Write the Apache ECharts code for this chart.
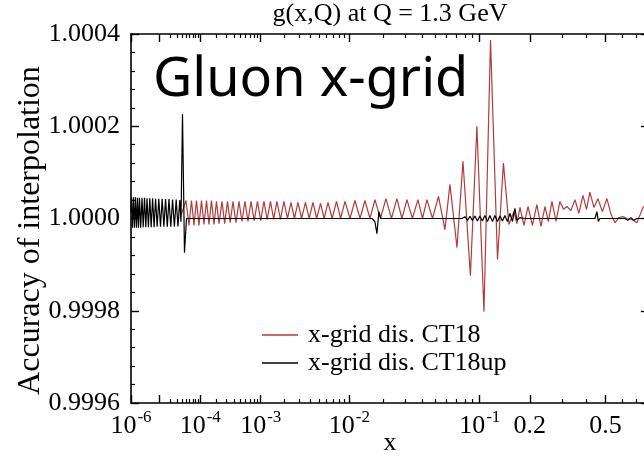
<!DOCTYPE html>
<html><head><meta charset="utf-8">
<script src="https://cdn.jsdelivr.net/npm/echarts@6/dist/echarts.min.js"></script>
<style>html,body{margin:0;padding:0;background:#fff}#c{width:644px;height:456px}</style>
</head><body><div id="c"></div>
<script>
// ---------- texts ----------
const titleText = 'g(x,Q) at Q = 1.3 GeV';
const panelLabel = 'Gluon x-grid';
const yAxisName = 'Accuracy of interpolation';
const xAxisName = 'x';
const seriesNames = ['x-grid dis. CT18', 'x-grid dis. CT18up'];

// ---------- axes ----------
const xMin = 1e-6, xMax = 0.8;
const yMin = 0.9996, yMax = 1.0004, yStep = 0.0002;
const xMajorTicks = [1e-6, 1e-5, 1e-4, 1e-3, 1e-2, 0.1, 0.2, 0.5];
const xMinorTicks = [2e-5,3e-5,4e-5,5e-5,6e-5,7e-5,8e-5,9e-5,
  2e-4,3e-4,4e-4,5e-4,6e-4,7e-4,8e-4,9e-4,
  2e-3,3e-3,4e-3,5e-3,6e-3,7e-3,8e-3,9e-3,
  0.02,0.03,0.04,0.05,0.06,0.07,0.08,0.09,
  0.3,0.4,0.6,0.7];
const xLabelValues = [1e-6, 1e-4, 1e-3, 1e-2, 0.1, 0.2, 0.5];
const xLabelBase = ['10', '10', '10', '10', '10', '0.2', '0.5'];
const xLabelExp = ['-6', '-4', '-3', '-2', '-1', '', ''];

// ---------- data: log10(x) and deviation from 1 (units of 1e-5) ----------
const ct18LogX = [-4.444,-4.305,-4.238,-4.183,-4.129,-4.077,-4.026,-3.975,-3.926,-3.877,-3.830,-3.783,-3.737,-3.692,-3.647,-3.595,-3.549,-3.502,-3.457,-3.412,-3.364,-3.317,-3.271,-3.226,-3.181,-3.137,-3.091,-3.045,-3.000,-2.956,-2.913,-2.869,-2.828,-2.786,-2.742,-2.699,-2.656,-2.614,-2.573,-2.533,-2.491,-2.448,-2.407,-2.366,-2.326,-2.286,-2.248,-2.209,-2.167,-2.124,-2.084,-2.042,-1.995,-1.949,-1.903,-1.859,-1.815,-1.772,-1.725,-1.679,-1.634,-1.590,-1.550,-1.511,-1.469,-1.427,-1.393,-1.360,-1.320,-1.277,-1.232,-1.197,-1.149,-1.109,-1.060,-1.018,-0.973,-0.932,-0.920,-0.889,-0.853,-0.820,-0.790,-0.773,-0.755,-0.732,-0.709,-0.684,-0.659,-0.636,-0.614,-0.595,-0.576,-0.554,-0.533,-0.514,-0.496,-0.475,-0.454,-0.434,-0.413,-0.395,-0.378,-0.358,-0.338,-0.316,-0.294,-0.274,-0.255,-0.236,-0.217,-0.198,-0.175,-0.152,-0.124,-0.093,-0.048];
const ct18Dev = [0.0,3.9,-1.5,3.9,-1.5,3.9,-1.5,3.9,-1.3,3.9,-1.3,3.9,-1.3,3.7,-1.1,3.7,-1.1,3.7,-0.9,3.7,-0.9,3.7,-0.65,3.7,-0.65,3.7,-0.45,3.7,-0.45,3.7,-0.2,3.7,-0.2,3.7,-0.2,3.7,0.0,3.5,0.0,3.5,0.0,3.5,0.0,3.5,0.0,3.3,0.0,3.5,0.0,3.7,0.0,3.7,0.0,3.9,0.0,3.9,0.0,4.1,0.0,4.3,0.0,4.3,0.0,4.1,0.0,4.1,0.0,4.1,0.0,4.8,-2.4,7.4,-6.3,12.4,-12.4,20.0,-20.2,38.7,38.9,-8.9,12.0,-1.3,1.5,-1.1,2.4,-1.5,2.6,-1.5,3.0,-1.7,2.6,-0.65,3.7,-0.65,3.7,2.0,2.6,1.7,4.1,1.1,5.0,2.0,5.7,2.4,4.3,1.5,4.3,0.9,-0.9,0.2,0.4,0.0,-0.2,-0.9,2.4,3.9,3.0];

const ct18upLogX = [-6.000,-5.978,-5.936,-5.894,-5.852,-5.812,-5.771,-5.732,-5.693,-5.655,-5.610,-5.561,-5.518,-5.471,-5.426,-5.384,-5.336,-5.290,-5.244,-5.199,-5.151,-5.105,-5.056,-5.008,-4.958,-4.909,-4.861,-4.814,-4.767,-4.722,-4.674,-4.628,-4.582,-4.537,-4.493,-4.449,-4.421,-4.385,-4.339,-4.293,-3.461,-2.510,-2.090,-1.797,-1.772,-1.755,-1.738,-1.721,-1.412,-1.116,-1.096,-1.079,-1.063,-1.047,-1.031,-1.015,-0.999,-0.983,-0.967,-0.951,-0.936,-0.920,-0.905,-0.889,-0.874,-0.859,-0.844,-0.829,-0.814,-0.799,-0.785,-0.773,-0.755,-0.726,-0.533,-0.353,-0.343,-0.336,-0.328,-0.208,-0.194,-0.180,-0.166,-0.152,-0.097];
const ct18upDev = [1.3,4.6,-2.0,4.6,-2.0,4.6,-2.0,4.5,-2.0,4.5,-2.0,4.5,-1.9,4.5,-1.9,4.4,-1.9,4.4,-1.9,4.4,-1.9,4.3,-1.8,4.3,-1.8,4.3,-1.8,4.2,-1.8,4.2,-1.8,4.1,-1.8,4.1,-1.7,4.0,-0.7,22.6,-7.4,0.0,0.0,0.0,0.0,0.0,-0.7,-3.3,1.5,0.0,0.0,0.0,0.4,-0.4,0.5,-0.4,0.55,-0.55,0.55,-0.55,0.65,-0.65,0.65,-0.65,0.65,-0.65,0.55,-0.55,0.65,-0.65,1.1,-0.65,2.2,-0.4,0.2,0.0,0.0,0.0,1.5,-0.65,0.0,0.0,-0.4,0.2,-0.4,0.0,0.0];

// axis scale: the x axis is linear in x^(1/6)
const tr = x => Math.pow(x, 1 / 6);
const toPoints = (lx, dev) => lx.map((l, i) => [tr(Math.pow(10, l)), 1 + dev[i] * 1e-5]);

const SERIF = '"Liberation Serif", "Times New Roman", serif';
const chart = echarts.init(document.getElementById('c'), null, {renderer: 'canvas'});
const gridBox = {left: 131, right: -5, top: 34, bottom: 53, outerBoundsMode: 'none'};

function labelFor(v) {
  let best = 0, bd = Infinity;
  xLabelValues.forEach((x, i) => { const d = Math.abs(tr(x) - v); if (d < bd) { bd = d; best = i; } });
  return xLabelExp[best] ? '{b|' + xLabelBase[best] + '}{s|' + xLabelExp[best] + '}' : '{b|' + xLabelBase[best] + '}';
}

const majorX = (pos, withLabels) => ({
  type: 'value', gridIndex: 0, position: pos, min: tr(xMin), max: tr(xMax),
  name: withLabels ? xAxisName : '', nameLocation: 'middle', nameGap: 27, nameMoveOverlap: false,
  nameTextStyle: {fontFamily: SERIF, fontSize: 26, color: '#000'},
  axisLine: {show: true, onZero: false, lineStyle: {color: '#000', width: 1.6}},
  axisTick: {show: true, inside: true, length: 8, customValues: xMajorTicks.map(tr), lineStyle: {color: '#000', width: 1.4}},
  axisLabel: withLabels ? {
    show: true, margin: 6, customValues: xLabelValues.map(tr), formatter: labelFor,
    rich: {
      b: {fontFamily: SERIF, fontSize: 26, color: '#000', lineHeight: 30, verticalAlign: 'bottom'},
      s: {fontFamily: SERIF, fontSize: 17, color: '#000', lineHeight: 17, verticalAlign: 'top', padding: [0, 0, 0, 1]}
    }
  } : {show: false},
  splitLine: {show: false}
});
const minorX = (pos) => ({
  type: 'value', gridIndex: 1, position: pos, min: tr(xMin), max: tr(xMax),
  axisLine: {show: false, onZero: false},
  axisTick: {show: true, inside: true, length: 4, customValues: xMinorTicks.map(tr), lineStyle: {color: '#000', width: 1.2}},
  axisLabel: {show: false}, splitLine: {show: false}
});
const majorY = (pos, withLabels) => ({
  type: 'value', gridIndex: 0, position: pos, min: yMin, max: yMax, interval: yStep,
  name: withLabels ? yAxisName : '', nameLocation: 'middle', nameGap: 84, nameRotate: 90, nameMoveOverlap: false,
  nameTextStyle: {fontFamily: SERIF, fontSize: 32, color: '#000', padding: [0, 24, 0, 0]},
  axisLine: {show: true, onZero: false, lineStyle: {color: '#000', width: 1.6}},
  axisTick: {show: true, inside: true, length: 8, lineStyle: {color: '#000', width: 1.4}},
  minorTick: {show: true, splitNumber: 5, length: 4, lineStyle: {color: '#000', width: 1.2}},
  axisLabel: withLabels ? {show: true, margin: 11, fontFamily: SERIF, fontSize: 26, color: '#000',
    formatter: v => v.toFixed(4)} : {show: false},
  splitLine: {show: false}
});

chart.setOption({
  animation: false,
  backgroundColor: '#fff',
  grid: [Object.assign({}, gridBox), Object.assign({}, gridBox)],
  xAxis: [majorX('bottom', true), majorX('top', false), minorX('bottom'), minorX('top')],
  yAxis: [majorY('left', true), majorY('right', false),
    {type: 'value', gridIndex: 1, min: yMin, max: yMax, show: false}],
  legend: {
    orient: 'vertical', left: 262, top: 322, icon: 'rect', itemWidth: 36, itemHeight: 1.4, itemGap: 2, padding: 0,
    data: seriesNames,
    textStyle: {fontFamily: SERIF, fontSize: 26, color: '#000', padding: [0, 0, 0, 5]}
  },
  series: [
    {name: seriesNames[0], type: 'line', xAxisIndex: 0, yAxisIndex: 0, symbol: 'none',
     color: '#b23c3c', lineStyle: {color: '#b23c3c', width: 1.2}, data: toPoints(ct18LogX, ct18Dev), z: 2},
    {name: seriesNames[1], type: 'line', xAxisIndex: 0, yAxisIndex: 0, symbol: 'none',
     color: '#000', lineStyle: {color: '#000', width: 1.2}, data: toPoints(ct18upLogX, ct18upDev), z: 3}
  ],
  graphic: [
    {type: 'text', x: 390, y: 14, style: {text: titleText, font: '26px ' + SERIF, fill: '#000', align: 'center', verticalAlign: 'middle'}},
    {type: 'text', x: 153, y: 81, style: {text: panelLabel, font: '54px "Noto Sans"', fill: '#000', align: 'left', verticalAlign: 'middle'}}
  ]
});
</script></body></html>
